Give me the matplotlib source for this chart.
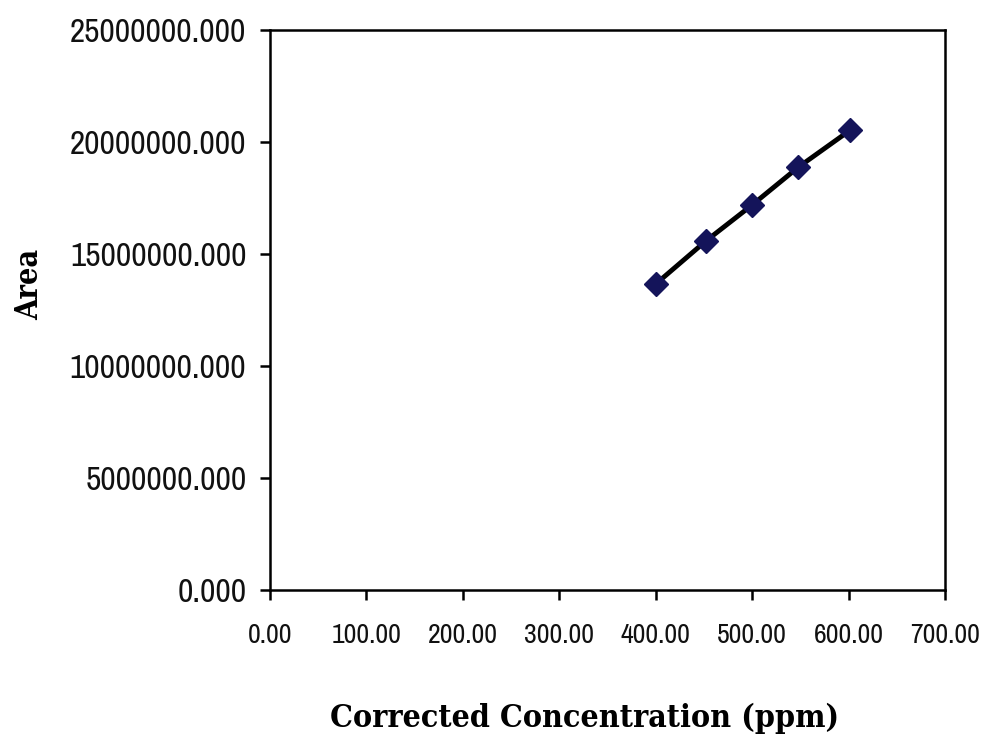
import matplotlib
matplotlib.use("Agg")
import matplotlib.pyplot as plt
from matplotlib.ticker import FuncFormatter

conc = [400.0, 452.0, 500.0, 548.0, 602.0]
area = [13660000, 15580000, 17190000, 18880000, 20540000]
xticks = [0, 100, 200, 300, 400, 500, 600, 700]
yticks = [0, 5000000, 10000000, 15000000, 20000000, 25000000]
x_title = "Corrected Concentration (ppm)"
y_title = "Area"

fig = plt.figure(figsize=(9.89, 7.47), dpi=100)
ax = fig.add_axes([0.273, 0.2102, 0.6825, 0.7496])
ax.plot(conc, area, color="black", linewidth=3.5, zorder=2)
ax.plot(conc, area, linestyle="none", marker="D", markersize=12,
        color="#14145a", zorder=3)
ax.set_xlim(0, 700)
ax.set_ylim(0, 25000000)
ax.set_xticks(xticks)
ax.set_yticks(yticks)
ax.xaxis.set_major_formatter(FuncFormatter(lambda v, p: f"{v:.2f}"))
ax.yaxis.set_major_formatter(FuncFormatter(lambda v, p: f"{v:.3f}"))
for s in ax.spines.values():
    s.set_linewidth(1.8)
ax.tick_params(axis="both", direction="out", length=7, width=1.8,
               top=False, right=False)
ax.tick_params(axis="x", pad=17, labelsize=20)
ax.tick_params(axis="y", pad=10, labelsize=24)
for lab in ax.get_xticklabels() + ax.get_yticklabels():
    lab.set_fontfamily("Archivo Narrow")
    lab.set_color("#111111")
fig.text(585 / 989, 1 - 718 / 747, x_title, ha="center", va="center",
         fontfamily="DejaVu Serif", fontstretch="condensed", fontweight="bold",
         fontsize=23)
fig.text(30 / 989, 1 - 284 / 747, y_title, ha="center", va="center",
         rotation=90, fontfamily="DejaVu Serif", fontstretch="condensed",
         fontweight="bold", fontsize=22)
fig.savefig("out.png", dpi=100)
